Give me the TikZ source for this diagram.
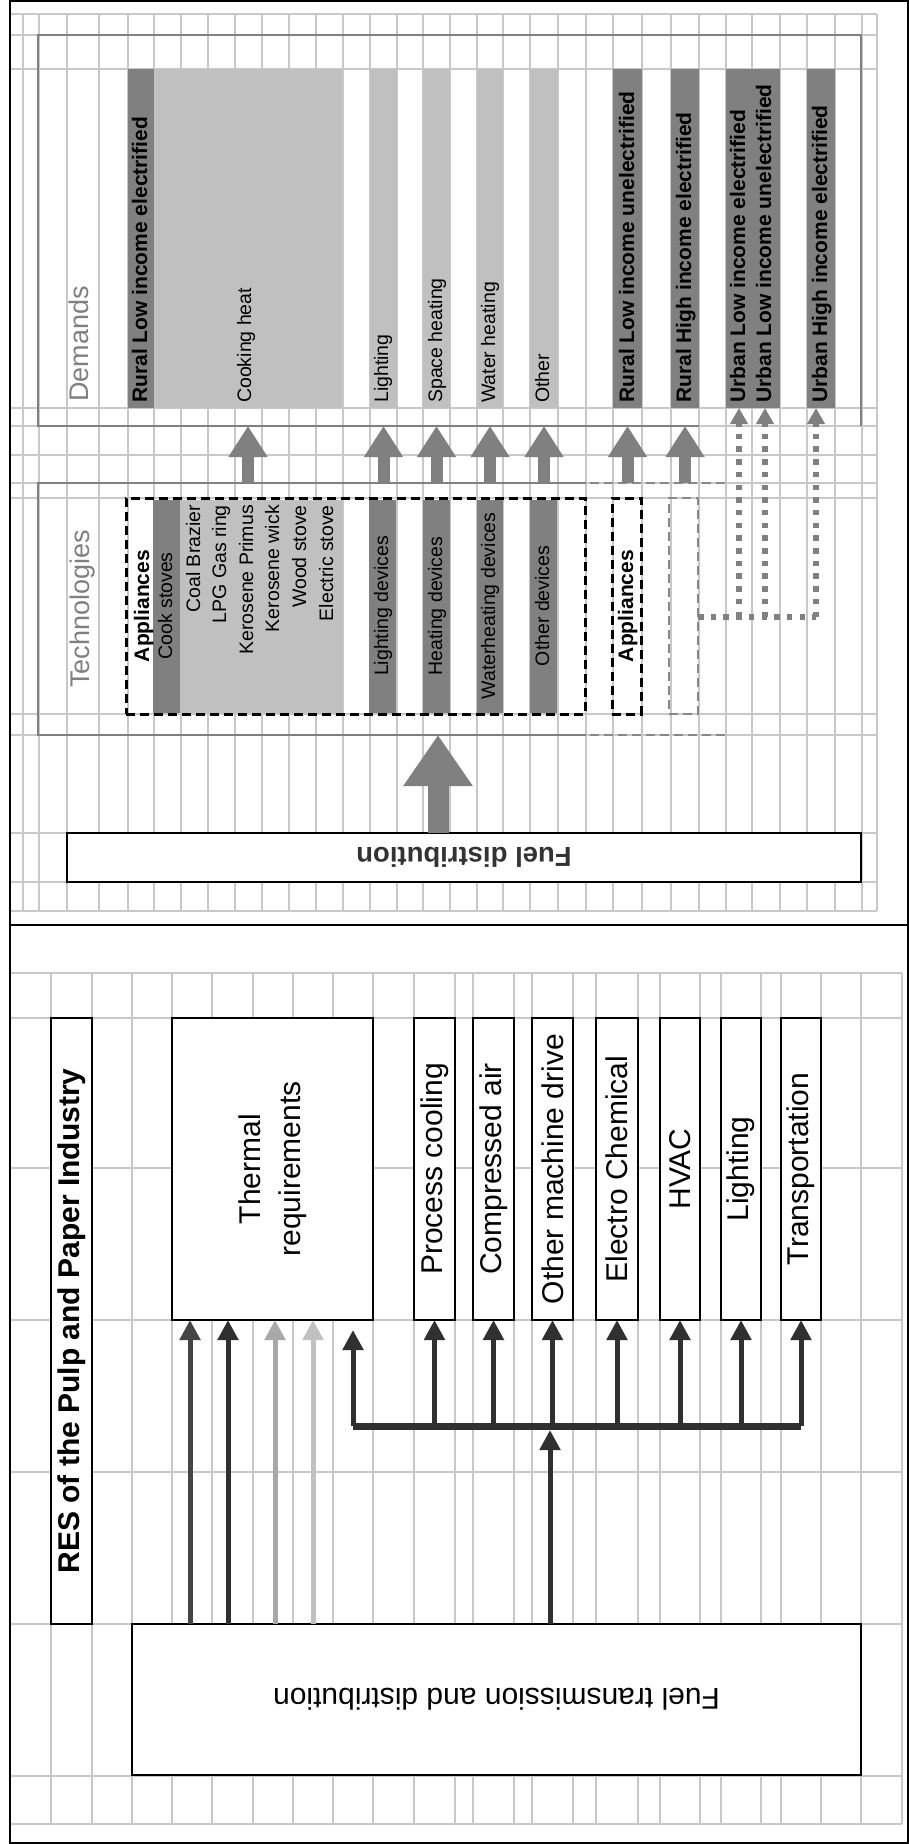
\documentclass[tikz,border=0pt]{standalone}
\usepackage{fontspec}
\setmainfont{Liberation Sans}
\usetikzlibrary{arrows.meta}
\definecolor{gridc}{HTML}{C8C8C8}
\definecolor{midgray}{HTML}{808080}
\definecolor{lightgraybar}{HTML}{C0C0C0}
\definecolor{dashgray}{HTML}{888888}
\definecolor{arrdark}{HTML}{454545}
\definecolor{arrdarker}{HTML}{303030}
\definecolor{arrlight}{HTML}{A8A8A8}
\definecolor{arrlighter}{HTML}{C0C0C0}
\definecolor{fueltext}{HTML}{333333}
\newcommand\mybox[6]{\node[#6, inner sep=0pt, outer sep=0pt, anchor=north west, minimum width={#4pt-#2pt}, minimum height={#5pt-#3pt}] (#1) at (#2,#3) {};}
\begin{document}
\begin{tikzpicture}[x=1pt,y=-1pt,
  gridline/.style={draw=gridc, line width=1.2pt},
  darkbar/.style={fill=midgray},
  lightbar/.style={fill=lightgraybar},
  framegray/.style={draw=midgray, line width=2.4pt},
  framedash/.style={draw=dashgray, line width=2.6pt, dash pattern=on 9pt off 5pt},
  blackdash/.style={draw=black, line width=3pt, dash pattern=on 9pt off 5pt},
  graydash/.style={draw=dashgray, line width=2.6pt, dash pattern=on 9pt off 5pt},
  whitebox/.style={draw=black, fill=white, line width=1.6pt},
  ttl/.style={text=midgray, font=\fontsize{27}{32}\selectfont, inner sep=0pt, text height=20pt, text depth=5pt},
  txt/.style={font=\fontsize{19.5}{23}\selectfont, inner sep=0pt, text height=14pt, text depth=4pt},
  btxt/.style={font=\fontsize{21}{25}\selectfont\bfseries, inner sep=0pt, text height=15pt, text depth=3pt},
  ltxt/.style={font=\fontsize{30}{40}\selectfont, inner sep=0pt},
  bigarrow/.style={draw=midgray, line width=12pt, -{Triangle[width=37pt,length=31pt]}},
  hugearrow/.style={draw=midgray, line width=21pt, -{Triangle[width=66pt,length=51pt]}},
  dotline/.style={draw=midgray, line width=5.5pt, dash pattern=on 5.5pt off 7.2pt},
  dotarrow/.style={dotline, -{Triangle[width=17pt,length=16pt]}},
  thinarrow/.style={line width=5pt, -{Triangle[width=20pt,length=20pt]}},
]
\useasboundingbox (0,0) rectangle (909,1844);
\fill[white] (0,0) rectangle (909,1844);

% ---------------- top panel grid
\foreach \x in {10,23,39,67,99,128,154,181,208,235,262,289,316,343,370,397,423,450,477,503,530,558,586,613,642,671,699,726,752,780,807,835,862,877}
  \draw[gridline] (\x,14) -- (\x,911);
\foreach \y in {14,35,69,408,426,455,483,498,714,735,833,882,911}
  \draw[gridline] (10,\y) -- (877,\y);

% ---------------- bottom panel grid
\foreach \x in {10,51,92,132,172,212,253,293,333,373,414,455,473,514,532,573,596,638,660,700,721,761,781,821,861,902}
  \draw[gridline] (\x,973) -- (\x,1824);
\foreach \y in {973,1018,1168,1320,1472,1624,1776,1824}
  \draw[gridline] (10,\y) -- (902,\y);

% ---------------- outer frames
\draw[black, line width=2pt] (10,1.5) rectangle (908,925);
\draw[black, line width=2pt] (10,925) rectangle (908,1843);

% ---------------- Demands
\draw[framegray] (699,426) -- (38,426) -- (38,35) -- (861,35) -- (861,426);
\node[ttl, rotate=90, anchor=west] (demLabel) at (81,402) {Demands};
\mybox{dRLE}{128}{69}{154}{408}{darkbar}
\mybox{dCook}{154}{69}{342}{408}{lightbar}
\mybox{dLight}{370}{69}{397}{408}{lightbar}
\mybox{dSpace}{423}{69}{450}{408}{lightbar}
\mybox{dWater}{477}{69}{503}{408}{lightbar}
\mybox{dOther}{530}{69}{558}{408}{lightbar}
\mybox{dRLU}{613}{69}{642}{408}{darkbar}
\mybox{dRHE}{671}{69}{699}{408}{darkbar}
\mybox{dUL}{726}{69}{780}{408}{darkbar}
\mybox{dUHE}{807}{69}{835}{408}{darkbar}
\node[btxt, rotate=90, anchor=west] (tRLE) at (141,403) {Rural Low income electrified};
\node[txt, rotate=90, anchor=west] (tCook) at (246,403) {Cooking heat};
\node[txt, rotate=90, anchor=west] (tLight) at (383,403) {Lighting};
\node[txt, rotate=90, anchor=west] (tSpace) at (437,403) {Space heating};
\node[txt, rotate=90, anchor=west] (tWater) at (490,403) {Water heating};
\node[txt, rotate=90, anchor=west] (tOther) at (544,403) {Other};
\node[btxt, rotate=90, anchor=west] (tRLU) at (628,403) {Rural Low income unelectrified};
\node[btxt, rotate=90, anchor=west] (tRHE) at (685,403) {Rural High income electrified};
\node[btxt, rotate=90, anchor=west] (tULE) at (739,403) {Urban Low income electrified};
\node[btxt, rotate=90, anchor=west] (tULU) at (765,403) {Urban Low income unelectrified};
\node[btxt, rotate=90, anchor=west] (tUHE) at (821,403) {Urban High income electrified};

% ---------------- Technologies
\draw[framegray] (586,483) -- (38,483) -- (38,735) -- (586,735);
\draw[framedash] (590,483) -- (725,483);
\draw[framedash] (590,735) -- (725,735);
\node[ttl, rotate=90, anchor=west] (techLabel) at (82,688) {Technologies};
\mybox{tbCook}{153}{500}{180}{713}{darkbar}
\mybox{tbStoves}{180}{500}{343}{713}{lightbar}
\mybox{tbLight}{369}{500}{396}{713}{darkbar}
\mybox{tbHeat}{423}{500}{450}{713}{darkbar}
\mybox{tbWater}{477}{500}{503}{713}{darkbar}
\mybox{tbOther}{530}{500}{557}{713}{darkbar}
\mybox{gBoxA}{126}{498}{585}{714}{blackdash}
\mybox{gBoxB}{612}{498}{641}{714}{blackdash}
\mybox{gBoxC}{669}{498}{698}{714}{graydash}
\node[btxt, rotate=90] (sAppA) at (143,606) {Appliances};
\node[txt, rotate=90] (sCook) at (167,606) {Cook stoves};
\node[txt, rotate=90, anchor=east] (sCoal) at (195,505) {Coal Brazier};
\node[txt, rotate=90, anchor=east] (sLPG) at (221,505) {LPG Gas ring};
\node[txt, rotate=90, anchor=east] (sKerP) at (248,505) {Kerosene Primus};
\node[txt, rotate=90, anchor=east] (sKerW) at (274,505) {Kerosene wick};
\node[txt, rotate=90, anchor=east] (sWood) at (301,505) {Wood stove};
\node[txt, rotate=90, anchor=east] (sElec) at (328,505) {Electric stove};
\node[txt, rotate=90] (sLight) at (383,606) {Lighting devices};
\node[txt, rotate=90] (sHeat) at (437,606) {Heating devices};
\node[txt, rotate=90] (sWater) at (490,606) {Waterheating devices};
\node[txt, rotate=90] (sOther) at (544,606) {Other devices};
\node[btxt, rotate=90] (sAppB) at (627,606) {Appliances};

% ---------------- arrows technologies -> demands
\coordinate (techTop) at (0,483);
\coordinate (demBot) at (0,426);
\coordinate (techBot) at (0,735);
\foreach \n in {dCook,dLight,dSpace,dWater,dOther,dRLU,dRHE}
  \draw[bigarrow] (\n.south |- techTop) -- (\n.south |- demBot);

% dotted urban arrows
\coordinate (dotY) at (0,617);
\coordinate (ule) at (739,408);
\coordinate (ulu) at (765,408);
\coordinate (uhe) at (816,408);
\draw[dotline] (gBoxC.east |- dotY) -- (dotY -| uhe);
\draw[dotarrow] (dotY -| ule) -- (ule);
\draw[dotarrow] (dotY -| ulu) -- (ulu);
\draw[dotarrow] (dotY -| uhe) -- (uhe);

% ---------------- Fuel distribution
\mybox{fuelD}{67}{833}{861}{882}{whitebox}
\node[rotate=180, text=fueltext, font=\fontsize{27.5}{32}\selectfont\bfseries, inner sep=0pt] (fuelDText) at (464,857) {Fuel distribution};
\coordinate (fuelX) at (438,0);
\draw[hugearrow] (fuelD.north -| fuelX) -- (fuelX |- techBot);

% ================= bottom panel
\mybox{title}{51}{1018}{92}{1624}{whitebox}
\node[rotate=90, font=\fontsize{30}{36}\selectfont\bfseries, inner sep=0pt] (titleText) at (title.center) {RES of the Pulp and Paper Industry};
\mybox{thermal}{172}{1018}{373}{1320}{whitebox}
\node[ltxt, rotate=90, align=center] (thermalText) at (thermal.center) {Thermal\\requirements};
\mybox{bPC}{414}{1018}{455}{1320}{whitebox}
\mybox{bCA}{473}{1018}{514}{1320}{whitebox}
\mybox{bOM}{532}{1018}{573}{1320}{whitebox}
\mybox{bEC}{596}{1018}{638}{1320}{whitebox}
\mybox{bHV}{660}{1018}{700}{1320}{whitebox}
\mybox{bLI}{721}{1018}{761}{1320}{whitebox}
\mybox{bTR}{781}{1018}{821}{1320}{whitebox}
\node[ltxt, rotate=90] (tPC) at (bPC.center) {Process cooling};
\node[ltxt, rotate=90] (tCA) at (bCA.center) {Compressed air};
\node[ltxt, rotate=90] (tOM) at (bOM.center) {Other machine drive};
\node[ltxt, rotate=90] (tEC) at (bEC.center) {Electro Chemical};
\node[ltxt, rotate=90] (tHV) at (bHV.center) {HVAC};
\node[ltxt, rotate=90] (tLI) at (bLI.center) {Lighting};
\node[ltxt, rotate=90] (tTR) at (bTR.center) {Transportation};

\mybox{fuelT}{132}{1624}{861}{1775}{whitebox}
\node[ltxt, rotate=180] (fuelTText) at (fuelT.center) {Fuel transmission and distribution};

% arrows bottom panel
\coordinate (xa) at (190,0);
\coordinate (xb) at (228,0);
\coordinate (xc) at (275,0);
\coordinate (xd) at (313,0);
\coordinate (xe) at (353,0);
\coordinate (xm) at (550,0);
\coordinate (brY) at (0,1426);
\coordinate (brTip) at (0,1430);
\coordinate (thTip) at (0,1330);
\draw[thinarrow, draw=arrdark] (fuelT.north -| xa) -- (xa |- thermal.south);
\draw[thinarrow, draw=arrdarker] (fuelT.north -| xb) -- (xb |- thermal.south);
\draw[thinarrow, draw=arrlight] (fuelT.north -| xc) -- (xc |- thermal.south);
\draw[thinarrow, draw=arrlighter] (fuelT.north -| xd) -- (xd |- thermal.south);
\draw[draw=arrdarker, line width=7pt, line cap=square] (xe |- brY) -- (bTR.south |- brY);
\draw[thinarrow, draw=arrdarker] (fuelT.north -| xm) -- (xm |- brTip);
\draw[thinarrow, draw=arrdarker] (xe |- brY) -- (xe |- thTip);
\foreach \b in {bPC,bCA,bOM,bEC,bHV,bLI,bTR}
  \draw[thinarrow, draw=arrdarker] (\b.south |- brY) -- (\b.south);
\end{tikzpicture}
\end{document}
